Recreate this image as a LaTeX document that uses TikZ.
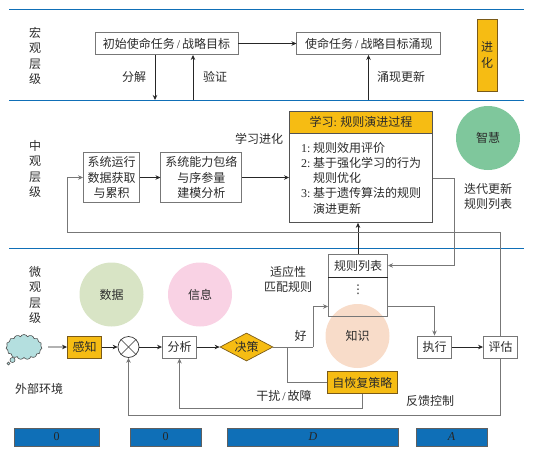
\documentclass[tikz,border=0pt]{standalone}
\usepackage{fontspec}
\setmainfont{Noto Sans CJK SC}
\newfontfamily\latin{Liberation Serif}
\newfontfamily\symbolfont{DejaVu Sans}
\usepackage{xcolor}
\usetikzlibrary{shapes.geometric, shapes.symbols, arrows.meta, positioning, calc}
\definecolor{cblue}{HTML}{0F6FB7}
\definecolor{cyellow}{HTML}{F6BC13}
\definecolor{cbrown}{HTML}{7A5A18}
\definecolor{cgray}{HTML}{777777}
\definecolor{ctext}{HTML}{2B2B2B}
\definecolor{cgreen}{HTML}{7FC79C}
\definecolor{colive}{HTML}{D8E4C5}
\definecolor{cpink}{HTML}{F9D2E4}
\definecolor{cpeach}{HTML}{F8DCC9}
\definecolor{ccloud}{HTML}{B4DFDF}
\tikzset{
  every node/.style={font=\fontsize{12}{15.2}\selectfont, text=ctext, inner sep=0pt},
  caption/.style={align=center},
  stepbox/.style={rectangle, draw=cgray, fill=white, line width=0.9pt, align=center, minimum height=22pt},
  goldbox/.style={rectangle, draw=cbrown, fill=cyellow, line width=0.9pt, align=center, minimum height=22pt},
  bubble/.style={circle, fill=#1, minimum size=64pt},
  bar/.style={rectangle, draw=cgray!80!black, fill=cblue, line width=0.7pt, minimum height=18pt, text=black!85},
  flow/.style={-{Stealth[length=5pt,width=4.5pt]}, line width=0.8pt, draw=black!85},
  flowgray/.style={-{Stealth[length=5pt,width=4.5pt]}, line width=0.9pt, draw=cgray},
  linegray/.style={line width=0.9pt, draw=cgray},
  level/.style={line width=0.9pt, draw=cblue},
}
\newcommand{\slashmark}{\,{\latin /}\,}
\newcommand{\itemno}[1]{\makebox[12pt][l]{\latin #1:}}
\begin{document}
\begin{tikzpicture}[x=1pt, y=-1pt]
        \useasboundingbox (0,0) rectangle (534,452);
        % layer lines
        \coordinate (topa) at (9,9.5);
        \coordinate (topb) at (524,9.5);
        \coordinate (mida) at (9,100);
        \coordinate (midb) at (524,100);
        \coordinate (lowa) at (9,248.5);
        \coordinate (lowb) at (524,248.5);
        \draw[level] (topa)--(topb);
        \draw[level] (mida)--(midb);
        \draw[level] (lowa)--(lowb);
        \node[caption] (macro) at (35,56) {宏\\观\\层\\级};
        \node[caption] (meso) at (35,169) {中\\观\\层\\级};
        \node[caption] (micro) at (35,295) {微\\观\\层\\级};
        % macro layer
        \node[stepbox, minimum width=143pt] (init) at (166.5,43.5) {初始使命任务\slashmark 战略目标};
        \node[stepbox, minimum width=144pt, right=58pt of init] (emerge) {使命任务\slashmark 战略目标涌现};
        \node[goldbox, minimum width=20pt, minimum height=72pt] (evolve) at (487,55) {进\\化};
        \coordinate (splitend) at (155,100);
        \coordinate (checkend) at (193,100);
        \coordinate (emergeend) at (368.5,100);
        \draw[flow] (init)--(emerge);
        \draw[flow] (splitend |- init.south)--(splitend);
        \draw[flow] (checkend)--(checkend |- init.south);
        \draw[flow] (emergeend)--(emergeend |- emerge.south);
        \node (splitlab) at (134,77) {分解};
        \node (checklab) at (215,77) {验证};
        \node (emergelab) at (401,77) {涌现更新};
        % meso layer
        \node[stepbox, minimum width=56pt, minimum height=50pt] (run) at (111.5,177.5) {系统运行\\数据获取\\与累积};
        \node[stepbox, minimum width=81pt, minimum height=50pt, right=20.5pt of run] (model) {系统能力包络\\与序参量\\建模分析};
        \node[goldbox, draw=cgray!70!black, minimum width=143pt] (learnhead) at (361,122) {学习{\latin :} 规则演进过程};
        \node[stepbox, draw=cgray!70!black, minimum width=143pt, minimum height=88.5pt, text width=120pt, align=left, below=0pt of learnhead] (learn)
          {\itemno{1}规则效用评价\\\itemno{2}基于强化学习的行为\\\hspace*{12pt}规则优化\\\itemno{3}基于遗传算法的规则\\\hspace*{12pt}演进更新};
        \node[bubble=cgreen] (wisdom) at (488,138) {智慧};
        \node[caption] (iterlab) at (488,196.5) {迭代更新\\规则列表};
        \node (learnlab) at (259,139) {学习进化};
        \draw[flow] (run)--(model);
        \draw[flow] (model.east)--(model.east -| learn.west);
        % micro layer
        \node[bubble=colive] (data) at (111.5,294.5) {数据};
        \node[bubble=cpink] (info) at (200,294.5) {信息};
        \node[bubble=cpeach] (know) at (357.5,336) {知识};
        \node[stepbox, fill=none, minimum width=59pt, minimum height=23pt] (rulehead) at (358,265.5) {规则列表};
        \node[stepbox, fill=none, minimum width=59pt, minimum height=39pt, below=0pt of rulehead] (rule) {};
        \node (ruledots) at (358,290) {\symbolfont ⋮};
        \draw[line width=0.9pt, draw=black!85] (rulehead.south west)--(rulehead.south east);
        \node[caption] (matchlab) at (288,279.5) {适应性\\匹配规则};
        \node[cloud, cloud puffs=15, cloud puff arc=130, aspect=1.5, draw=black!70, fill=ccloud, line width=0.6pt, minimum width=36pt, minimum height=25pt] (env) at (24,347) {};
        \node[circle, draw=black!70, fill=ccloud, line width=0.6pt, minimum size=5pt] (puffa) at (12.5,360) {};
        \node[circle, draw=black!70, fill=ccloud, line width=0.6pt, minimum size=3pt] (puffb) at (8.5,363.5) {};
        \node (envlab) at (39,389) {外部环境};
        \node[goldbox, minimum width=34pt] (sense) at (84.5,347) {感知};
        \node[circle, draw=black!80, fill=white, line width=0.7pt, minimum size=21pt] (mix) at (128.5,347) {};
        \draw[line width=0.6pt, draw=black!80] (mix.45)--(mix.225);
        \draw[line width=0.6pt, draw=black!80] (mix.135)--(mix.315);
        \node[stepbox, minimum width=34pt] (parse) at (179.5,347) {分析};
        \node[diamond, draw=cbrown, fill=cyellow, line width=0.7pt, aspect=1.9, minimum width=53pt, minimum height=28pt] (decide) at (246.5,347) {决策};
        \node[goldbox, minimum width=70.5pt] (recover) at (362.3,382.5) {自恢复策略};
        \node[stepbox, minimum width=34pt] (exec) at (434.5,347) {执行};
        \node[stepbox, minimum width=34pt] (assess) at (500.5,347) {评估};
        \node (goodlab) at (300.5,336) {好};
        \node (faultlab) at (284,396) {干扰\slashmark 故障};
        \node (backlab) at (430,401) {反馈控制};
        \coordinate (goodturn) at (313,347);
        \coordinate (faultturn) at (287,347);
        \coordinate (ruleout) at (434.5,306.5);
        \draw[flow] ([xshift=6pt]env.east)--(sense);
        \draw[flow] (sense)--(mix);
        \draw[flow] (mix)--(parse);
        \draw[flow] (parse)--(decide);
        \draw[linegray] (decide.east)--(goodturn);
        \draw[flowgray] (goodturn)--(goodturn |- ruleout)--(rule.west |- ruleout);
        \draw[linegray] (faultturn)--(faultturn |- recover.west)--(recover.west);
        \draw[flowgray] (recover.south)--(recover.south |- 0,408)--(parse.south |- 0,408)--(parse.south);
        \draw[flowgray] (rule.east |- ruleout)--(ruleout)--(exec.north);
        \draw[flow] (exec)--(assess);
        \draw[flow] (rulehead.north)--(rulehead.north |- learn.south);
        \draw[flowgray] (learn.east |- 0,178)--(454,178)--(454,265.5)--(rulehead.east);
        % feedback loops
        \draw[flowgray] (assess.north)--(assess.north |- 0,232)--(67.5,232)--(67.5,177.5)--(run.west);
        \draw[flowgray] (assess.south)--(assess.south |- 0,415)--(mix.south |- 0,415)--(mix.south);
        % bottom bars
        \node[bar, minimum width=85pt] (bara) at (56.5,437) {\latin 0};
        \node[bar, minimum width=71pt] (barb) at (165.5,437) {\latin 0};
        \node[bar, minimum width=171pt] (barc) at (313,437) {\latin\itshape D};
        \node[bar, minimum width=71pt] (bard) at (451.5,437) {\latin\itshape A};
    \end{tikzpicture}
\end{document}
